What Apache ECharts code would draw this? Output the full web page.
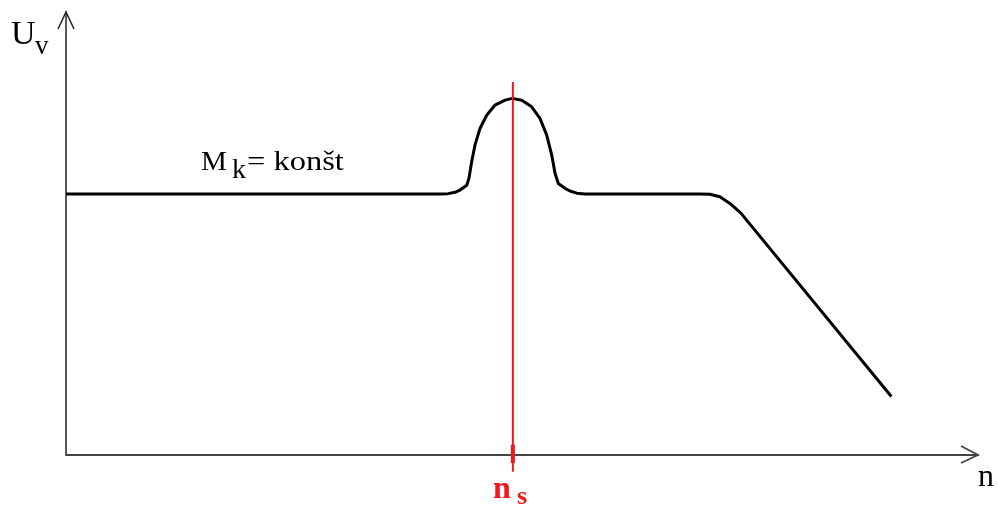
<!DOCTYPE html>
<html><head><meta charset="utf-8">
<script src="https://cdn.jsdelivr.net/npm/echarts@6/dist/echarts.min.js"></script>
<style>html,body{margin:0;padding:0;background:#fff}#c{width:999px;height:507px}</style>
</head><body><div id="c"></div>
<script>
// Curve: speed n (0..100) vs Uv (0..100)
const curveN = [0, 41.0, 41.9, 42.65, 43.2, 43.94, 44.19, 44.48, 44.85, 45.39, 46.13, 47.04, 48.14, 48.94, 49.97, 51.06, 51.97, 52.71, 53.26, 53.62, 53.98, 54.71, 55.26, 56.0, 56.9, 69.5, 70.6, 71.7, 72.8, 74.0, 90.5];
const curveU = [58.9, 58.9, 59.0, 59.3, 59.8, 60.9, 62.5, 66.2, 70.0, 73.7, 76.7, 79.0, 80.1, 80.5, 80.1, 78.6, 76.0, 72.2, 67.7, 63.6, 61.3, 60.2, 59.6, 59.1, 58.9, 58.9, 58.85, 58.3, 56.8, 54.6, 13.2];
const nsValue = 49.0;
const nsLineU = [84.2, -3.8];
const nsTickU = [2.3, -1.8];

const chart = echarts.init(document.getElementById('c'));
const F = '"Liberation Serif", "Times New Roman", serif';
chart.setOption({
  animation: false,
  grid: {left: 66, right: 21, top: 12, bottom: 52},
  xAxis: {type: 'value', min: 0, max: 100, axisLine: {onZero: false, lineStyle: {color: '#444', width: 2}},
          axisTick: {show: false}, axisLabel: {show: false}, splitLine: {show: false}},
  yAxis: {type: 'value', min: 0, max: 100, axisLine: {show: true, onZero: false, lineStyle: {color: '#222', width: 1.5}},
          axisTick: {show: false}, axisLabel: {show: false}, splitLine: {show: false}},
  series: [
    {type: 'line', data: curveN.map((n, i) => [n, curveU[i]]), showSymbol: false, smooth: false,
     lineStyle: {color: '#000', width: 3, join: 'round'}, clip: false, z: 3},
    {type: 'line', data: nsLineU.map(u => [nsValue, u]), showSymbol: false, clip: false,
     lineStyle: {color: '#f01818', width: 2}, z: 4},
    {type: 'line', data: nsTickU.map(u => [nsValue, u]), showSymbol: false, clip: false,
     lineStyle: {color: '#f01818', width: 4}, z: 4}
  ]
});
const yTip = chart.convertToPixel({gridIndex: 0}, [0, 100]);
const xTip = chart.convertToPixel({gridIndex: 0}, [100, 0]);
function txt(x, y, s, size, sx, weight, color) {
  return {type: 'text', x: x, y: y, scaleX: sx || 1,
          style: {x: 0, y: 0, text: s, font: (weight || '') + ' ' + size + 'px ' + F, fill: color || '#000', textVerticalAlign: 'middle'}};
}
const nsPx = chart.convertToPixel({gridIndex: 0}, [nsValue, 0]);
chart.setOption({graphic: [
  {type: 'polyline', shape: {points: [[yTip[0] - 8, yTip[1] + 17], yTip, [yTip[0] + 8, yTip[1] + 17]]}, style: {stroke: '#222', lineWidth: 1.5, fill: null}},
  {type: 'polyline', shape: {points: [[xTip[0] - 17, xTip[1] - 9], xTip, [xTip[0] - 17, xTip[1] + 8]]}, style: {stroke: '#444', lineWidth: 1.8, fill: null}},
  txt(11, 35, 'U', 34), txt(35, 47, 'v', 27),
  txt(201, 163, 'M', 28, 1.04), txt(232, 171, 'k', 28), txt(247, 163, '= konšt', 28, 1.16),
  txt(978, 478, 'n', 32),
  txt(nsPx[0] - 20, 490, 'n', 32, 1, 'bold', '#f01818'),
  txt(nsPx[0] + 4, 497, 's', 26, 1, 'bold', '#f01818')
]});
</script></body></html>
